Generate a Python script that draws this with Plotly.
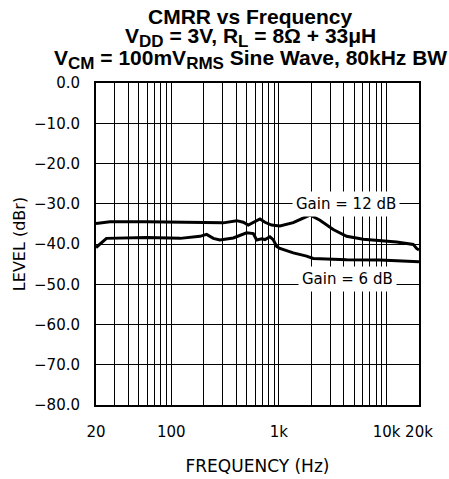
import plotly.graph_objects as go

# Gain = 12 dB curve
freq_12 = [20, 27, 59, 121, 304, 405, 466, 519, 578, 667, 742, 855, 1022, 1359, 1941,
           2404, 3194, 4255, 6072, 8670, 12392, 17672, 19000, 20000]
level_12 = [-34.9, -34.5, -34.5, -34.6, -34.75, -34.2, -34.6, -35.3, -34.6, -33.8, -34.6,
            -35.3, -35.5, -34.7, -32.8, -34.1, -36.4, -38.1, -38.8, -39.1, -39.5, -40.1,
            -41.1, -41.5]

# Gain = 6 dB curve
freq_6 = [20, 25, 59, 121, 185, 213, 246, 283, 377, 501, 578, 621, 691, 742, 825, 885,
          953, 1022, 1359, 1808, 2082, 4255, 8670, 19000, 20000]
level_6 = [-40.9, -38.6, -38.4, -38.6, -38.1, -37.6, -38.6, -39.0, -38.5, -37.2, -37.4,
           -39.0, -38.7, -38.9, -38.2, -38.9, -40.6, -41.1, -42.2, -43.0, -43.6, -43.9,
           -44.0, -44.4, -44.4]

y_ticks = [0, -10, -20, -30, -40, -50, -60, -70, -80]
y_labels = ["0.0", "\u221210.0", "\u221220.0", "\u221230.0", "\u221240.0", "\u221250.0",
            "\u221260.0", "\u221270.0", "\u221280.0"]

x_grid = [20, 30, 40, 50, 60, 70, 80, 90, 100, 200, 300, 400, 500, 600, 700, 800, 900,
          1000, 2000, 3000, 4000, 5000, 6000, 7000, 8000, 9000, 10000, 20000]
x_label_map = {20: "20", 100: "100", 1000: "1k", 10000: "10k", 20000: "20k"}
x_labels = [x_label_map.get(v, "") for v in x_grid]

SUB = "<span style='font-size:17px'>%s</span>"
title_lines = [
    "<b>CMRR vs Frequency</b>",
    "<b>V<sub>" + SUB % "DD" + "</sub> = 3V, R<sub>" + SUB % "L" + "</sub> = 8\u03a9 + 33\u03bcH</b>",
    "<b>V<sub>" + SUB % "CM" + "</sub> = 100mV<sub>" + SUB % "RMS" + "</sub> Sine Wave, 80kHz BW</b>",
]
title_y_px = [16, 37, 59]

W, H = 449, 479
L, R, T, B = 96, 30, 83, 74
pw, ph = W - L - R, H - T - B

fig = go.Figure()
fig.add_trace(go.Scatter(x=freq_12, y=level_12, mode="lines",
                         line=dict(color="black", width=3), showlegend=False))
fig.add_trace(go.Scatter(x=freq_6, y=level_6, mode="lines",
                         line=dict(color="black", width=3), showlegend=False))

fig.add_annotation(x=3.62, y=-30, xref="x", yref="y", text="Gain = 12 dB",
                   showarrow=False, bgcolor="white", borderpad=3,
                   font=dict(family="DejaVu Sans", size=15, color="black"))
fig.add_annotation(x=3.64, y=-48.7, xref="x", yref="y", text="Gain = 6 dB",
                   showarrow=False, bgcolor="white", borderpad=3,
                   font=dict(family="DejaVu Sans", size=15, color="black"))

title_font = dict(family="Liberation Sans", size=21, color="black")
for txt, ypix in zip(title_lines, title_y_px):
    fig.add_annotation(x=(250 - L) / pw, y=(H - B - ypix) / ph, xref="paper", yref="paper",
                       text=txt, showarrow=False, font=title_font,
                       xanchor="center", yanchor="middle")

fig.update_layout(
    width=W, height=H,
    margin=dict(l=L, r=R, t=T, b=B),
    plot_bgcolor="white", paper_bgcolor="white",
    font=dict(family="DejaVu Sans", size=15, color="black"),
    xaxis=dict(type="log", range=[1.30103, 4.30103], tickvals=x_grid, ticktext=x_labels,
               showgrid=True, gridcolor="black", gridwidth=1.3, ticks="",
               ticklabelstandoff=12, automargin=False,
               showline=True, linecolor="black", linewidth=2, mirror=True, zeroline=False,
               title=dict(text="FREQUENCY (Hz)", standoff=20,
                          font=dict(family="DejaVu Sans", size=17)),
               tickfont=dict(family="DejaVu Sans", size=15)),
    yaxis=dict(range=[-80, 0], tickvals=y_ticks, ticktext=y_labels,
               showgrid=True, gridcolor="black", gridwidth=1.3, ticks="",
               ticklabelstandoff=11, automargin=False,
               showline=True, linecolor="black", linewidth=2, mirror=True, zeroline=False,
               title=dict(text="LEVEL (dBr)", standoff=4,
                          font=dict(family="DejaVu Sans", size=16)),
               tickfont=dict(family="DejaVu Sans", size=15)),
)

fig.write_html("out.html", config={"displayModeBar": False},
               post_script="document.body.style.margin='0';")
